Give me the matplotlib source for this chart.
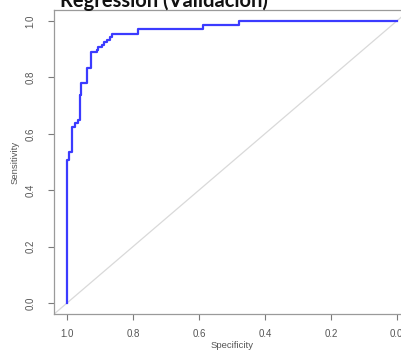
import matplotlib
matplotlib.use("Agg")
import matplotlib.pyplot as plt

# ROC step corners (specificity, sensitivity)
specificity = [1.000, 0.994, 0.985, 0.976, 0.968, 0.962, 0.958, 0.938, 0.927, 0.910,
               0.905, 0.894, 0.888, 0.879, 0.870, 0.864, 0.785, 0.589, 0.479, 0.000]
sensitivity = [0.000, 0.507, 0.535, 0.624, 0.638, 0.649, 0.738, 0.780, 0.833, 0.890,
               0.897, 0.908, 0.915, 0.926, 0.933, 0.943, 0.954, 0.972, 0.986, 1.000]
tick_vals = [1.0, 0.8, 0.6, 0.4, 0.2, 0.0]
tick_labels = ["1.0", "0.8", "0.6", "0.4", "0.2", "0.0"]
title = "Regression (Validacion)"

W, H = 401, 351
fig = plt.figure(figsize=(W / 100, H / 100), dpi=100)
fig.patch.set_facecolor("white")
ax = fig.add_axes([53.8 / W, (H - 314.3) / H, (410 - 53.8) / W, (314.3 - 9.7) / H])

ax.set_xlim(1.04, -0.04)
ax.set_ylim(-0.04, 1.04)

# diagonal reference line
ax.plot([1.04, -0.04], [-0.04, 1.04], color="#d9d9d9", lw=0.9, zorder=1)
# ROC curve
ax.plot(specificity, sensitivity, drawstyle="steps-pre", color="#3b3bff", lw=1.6, zorder=2)

ax.set_xticks(tick_vals)
ax.set_xticklabels(tick_labels, family="Liberation Sans")
ax.set_yticks(tick_vals)
ax.set_yticklabels(tick_labels, rotation=90, va="center", family="Liberation Sans")

for s in ax.spines.values():
    s.set_color("#9a9a9a")
    s.set_linewidth(0.9)
ax.tick_params(axis="both", colors="#7a7a7a", labelcolor="#555555", labelsize=7,
               length=4.3, width=0.8, direction="out")
ax.tick_params(axis="x", pad=6)
ax.tick_params(axis="y", pad=9)

ax.set_xlabel("Specificity", fontsize=6.8, color="#555555", labelpad=1.5,
              family="Liberation Sans")
ax.set_ylabel("Sensitivity", fontsize=6.8, color="#555555", labelpad=4,
              family="Liberation Sans")

fig.text(164 / W, (H - 7) / H, title, fontsize=14.5, fontweight="bold", family="Lato",
         ha="center", va="baseline", color="#111111")

fig.savefig("out.png", dpi=100)
